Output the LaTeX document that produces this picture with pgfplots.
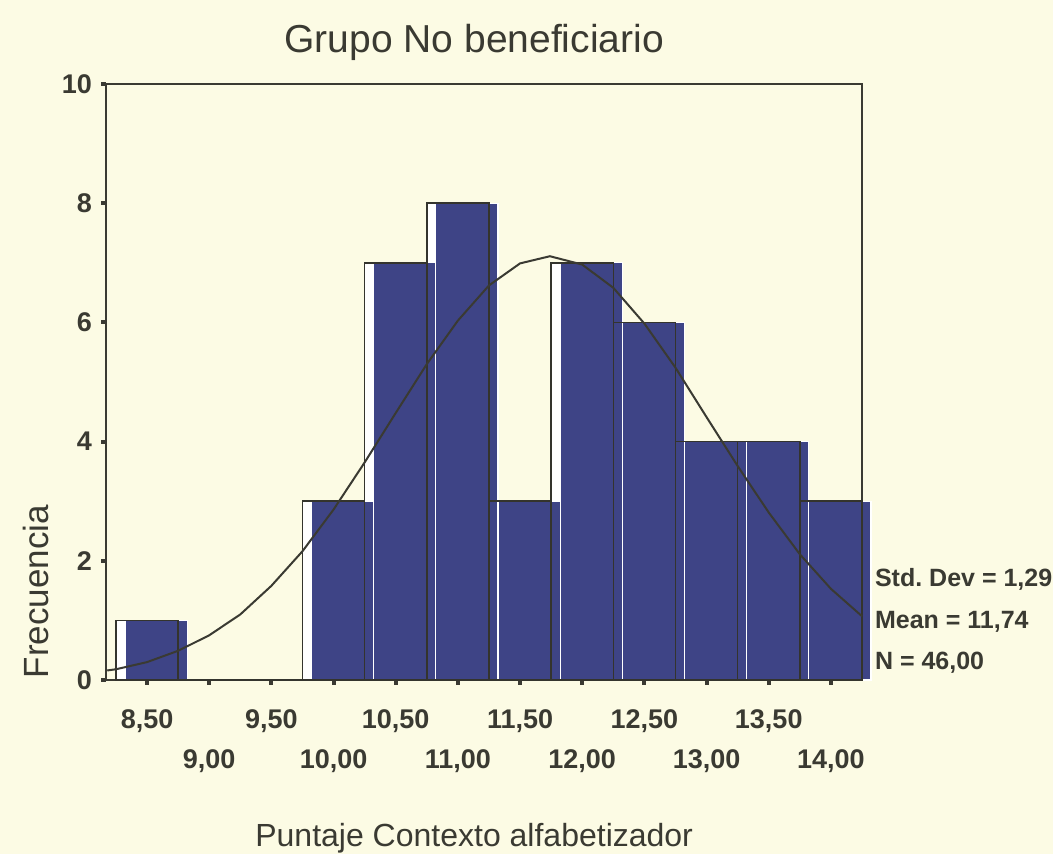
\documentclass[border=0pt]{standalone}
\usepackage{fontspec}
\setmainfont{Liberation Sans}
\usepackage{pgfplots}
\usepackage{pgfplotstable}
\pgfplotsset{compat=1.18}

\definecolor{paper}{HTML}{FCFBE4}
\definecolor{barblue}{HTML}{3E4486}
\definecolor{ink}{HTML}{3A3A32}

% frequencies per bin (bin centre, count)
\pgfplotstableread{
x f
8.5 1
9.0 0
9.5 0
10.0 3
10.5 7
11.0 8
11.5 3
12.0 7
12.5 6
13.0 4
13.5 4
14.0 3
}\histdata

% normal curve (N=46, mean 11.74, sd 1.29)
\pgfplotstableread{
x y
8.18 0.16
8.25 0.18
8.50 0.30
8.75 0.49
9.00 0.75
9.25 1.10
9.50 1.58
9.75 2.16
10.00 2.86
10.25 3.65
10.50 4.48
10.75 5.30
11.00 6.03
11.25 6.62
11.50 6.99
11.74 7.11
12.00 6.97
12.25 6.58
12.50 5.98
12.75 5.24
13.00 4.41
13.25 3.59
13.50 2.81
13.75 2.11
14.00 1.53
14.25 1.07
}\curvedata

\begin{document}
\begin{tikzpicture}
\fill[paper] (-53pt,-87pt) rectangle (473.5pt,340pt);
\useasboundingbox (-53pt,-87pt) rectangle (473.5pt,340pt);
\begin{axis}[
    at={(0,0)}, anchor=south west,
    width=378pt, height=298pt, scale only axis,
    xmin=8.17, xmax=14.25, ymin=0, ymax=10,
    clip=false,
    axis line style={ink, line width=0.9pt},
    tick align=outside,
    major tick length=2.5pt,
    tick style={ink, line width=2pt},
    xtick pos=left, ytick pos=left,
    xtick={8.5,9.5,10.5,11.5,12.5,13.5},
    xticklabels={{8,50},{9,50},{10,50},{11,50},{12,50},{13,50}},
    xticklabel style={yshift=-9pt},
    extra x ticks={9,10,11,12,13,14},
    extra x tick labels={{9,00},{10,00},{11,00},{12,00},{13,00},{14,00}},
    extra x tick style={xticklabel style={yshift=-20pt}},
    ytick={0,2,4,6,8,10},
    yticklabels={0,2,4,6,8,10},
    yticklabel style={xshift=-1pt},
    ticklabel style={font=\fontsize{13.5}{15}\selectfont\bfseries, text=ink},
    title={Grupo No beneficiario},
    title style={font=\fontsize{19.5}{22}\selectfont, text=ink, at={(axis description cs:0.487,1)}, anchor=south, yshift=2pt},
    xlabel={Puntaje Contexto alfabetizador},
    xlabel style={font=\fontsize{16}{18}\selectfont, text=ink, at={(axis description cs:0.487,0)}, anchor=center, yshift=-79pt},
    ylabel={Frecuencia},
    ylabel style={font=\fontsize{17.5}{20}\selectfont, text=ink, at={(axis description cs:0,0.148)}, anchor=center, yshift=35pt},
]
\addplot[ybar, bar width=0.5, bar shift=0pt, fill=white, draw=ink, line width=0.8pt] table[x=x, y=f] {\histdata};
\addplot[ybar, bar width=0.5, bar shift=4.5pt, fill=barblue, draw=white, line width=0.6pt] table[x=x, y=f] {\histdata};
\addplot[ybar, bar width=0.5, bar shift=0pt, fill=none, draw=ink!90!black, line width=0.8pt] table[x=x, y=f] {\histdata};
\addplot[ink, line width=1pt, sharp plot, mark=none] table[x=x, y=y] {\curvedata};

\node[anchor=west, font=\fontsize{12.5}{14}\selectfont\bfseries, text=ink] at (rel axis cs:1,0.168) {\hspace*{3pt}Std.\ Dev = 1,29};
\node[anchor=west, font=\fontsize{12.5}{14}\selectfont\bfseries, text=ink] at (rel axis cs:1,0.097) {\hspace*{3pt}Mean = 11,74};
\node[anchor=west, font=\fontsize{12.5}{14}\selectfont\bfseries, text=ink] at (rel axis cs:1,0.029) {\hspace*{3pt}N = 46,00};
\end{axis}
\end{tikzpicture}
\end{document}
